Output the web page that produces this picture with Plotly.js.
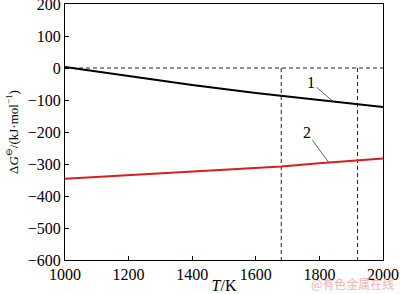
<!DOCTYPE html>
<html>
<head>
<meta charset="utf-8">
<script src="https://cdn.plot.ly/plotly-3.0.1.min.js"></script>
<style>html,body{margin:0;padding:0;background:#fff;}#chart{width:400px;height:294px;}</style>
</head>
<body>
<div id="chart"></div>
<script>
// Temperature samples (K)
var temps = [1000, 1200, 1400, 1600, 1680, 1800, 1920, 2000];
// Reaction 1 ΔG (kJ/mol)
var dG1 = [3, -25, -53, -78, -87, -100, -113, -122];
// Reaction 2 ΔG (kJ/mol)
var dG2 = [-346, -335, -323, -312, -308, -298, -290, -283];
// Reference temperatures (dashed verticals)
var refT = [1680, 1920];
var xTicks = [1000, 1200, 1400, 1600, 1800, 2000];
var yTicks = [200, 100, 0, -100, -200, -300, -400, -500, -600];
var curveLabels = ['1', '2'];
var labelT = [1843, 1830];

var serif = 'Liberation Serif, Times New Roman, serif';

function interp(xs, ys, x) {
  for (var i = 0; i < xs.length - 1; i++) {
    if (x >= xs[i] && x <= xs[i + 1]) {
      var f = (x - xs[i]) / (xs[i + 1] - xs[i]);
      return ys[i] + f * (ys[i + 1] - ys[i]);
    }
  }
  return ys[ys.length - 1];
}

var dash = {color: '#222', width: 1, dash: '4px,3px'};
var traces = [
  {x: [xTicks[0], xTicks[xTicks.length - 1]], y: [0, 0], mode: 'lines', line: dash, hoverinfo: 'skip'}
];
refT.forEach(function (t) {
  traces.push({x: [t, t], y: [0, yTicks[yTicks.length - 1]], mode: 'lines', line: dash, hoverinfo: 'skip'});
});
traces.push({x: temps, y: dG1, mode: 'lines', line: {color: '#000', width: 2}});
traces.push({x: temps, y: dG2, mode: 'lines', line: {color: '#d42020', width: 2}});

var series = [dG1, dG2];
var offsets = [[-22, -19], [-22, -30]];
var annotations = curveLabels.map(function (lab, i) {
  return {
    x: labelT[i], y: interp(temps, series[i], labelT[i]),
    text: lab, showarrow: true, arrowhead: 0, arrowwidth: 0.8, arrowcolor: '#333',
    ax: offsets[i][0], ay: offsets[i][1],
    font: {family: serif, size: 16, color: '#000'}
  };
});
annotations.push({
  xref: 'paper', yref: 'paper', x: 1.04, y: -0.132, xanchor: 'right', yanchor: 'bottom',
  text: '@有色金属在线', showarrow: false,
  font: {family: 'Noto Sans CJK SC', size: 12, color: '#f2b4b4'}
});

var layout = {
  width: 400, height: 294,
  margin: {l: 65, r: 17, t: 4, b: 34},
  paper_bgcolor: '#fff', plot_bgcolor: '#fff',
  showlegend: false,
  font: {family: serif, size: 16, color: '#000'},
  xaxis: {
    range: [xTicks[0], xTicks[xTicks.length - 1]],
    tickvals: xTicks, ticktext: xTicks.map(String),
    ticks: 'inside', ticklen: 4, tickwidth: 1, tickcolor: '#000',
    showline: true, linecolor: '#000', linewidth: 1, mirror: true,
    showgrid: false, zeroline: false, ticklabeloverflow: 'allow',
    tickfont: {family: serif, size: 16},
    title: {text: '<i>T</i>/K', font: {family: serif, size: 16}, standoff: 2}
  },
  yaxis: {
    range: [yTicks[yTicks.length - 1], yTicks[0]],
    tickvals: yTicks, ticktext: yTicks.map(function (v) { return v < 0 ? '\u2212' + Math.abs(v) : String(v); }),
    ticks: 'inside', ticklen: 4, tickwidth: 1, tickcolor: '#000',
    showline: true, linecolor: '#000', linewidth: 1, mirror: true,
    showgrid: false, zeroline: false, ticklabeloverflow: 'allow',
    tickfont: {family: serif, size: 16},
    title: {text: 'Δ<i>G</i><sup>⊖</sup>/(kJ·mol<sup>−1</sup>)', font: {family: serif, size: 13}, standoff: 6}
  },
  annotations: annotations
};

Plotly.newPlot('chart', traces, layout, {staticPlot: true, displayModeBar: false});
</script>
</body>
</html>
